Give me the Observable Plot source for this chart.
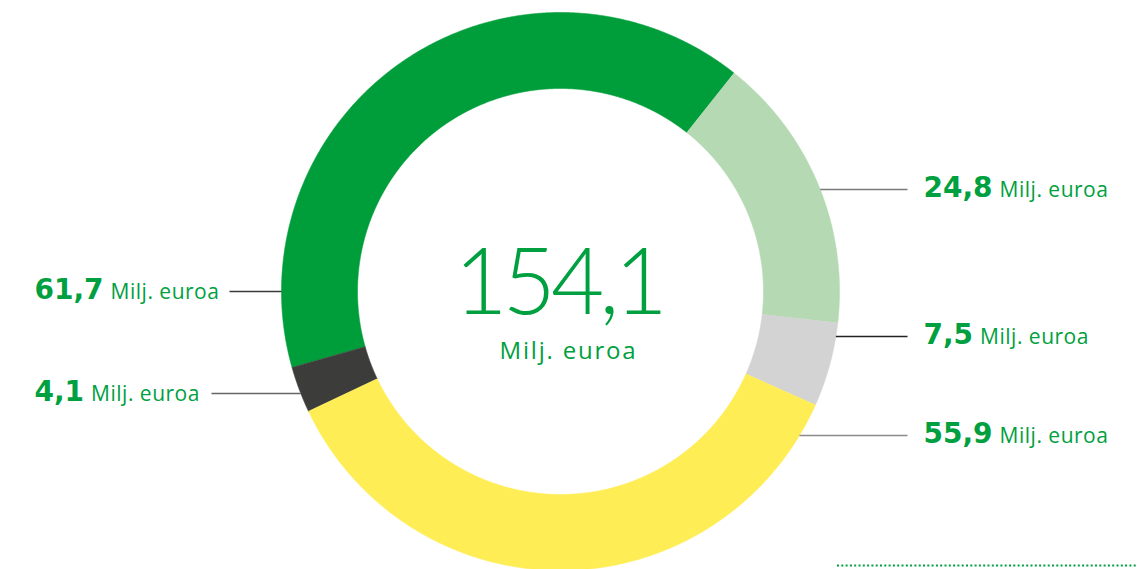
<!DOCTYPE html>
<html><head><meta charset="utf-8">
<script src="https://cdn.jsdelivr.net/npm/d3@7"></script>
<script src="https://cdn.jsdelivr.net/npm/@observablehq/plot@0.6"></script>
<style>html,body{margin:0;padding:0;background:#fff;overflow:hidden} #chart svg{display:block}</style>
</head><body><div id="chart"></div>
<script>
// ---- data ----
const categories = ["s1", "s2", "s3", "s4", "s5"];
const values = [61.7, 24.8, 7.5, 55.9, 4.1];
const totalValue = 154.1;
const unitLabel = "Milj. euroa";

// ---- style / layout ----
const sliceColors = ["#009E3B", "#B5D9B2", "#D3D3D3", "#FFED55", "#3C3C3B"];
const green = "#00A040";
const W = 1138, H = 569;
const R_OUT = 279, R_IN = 203;
const startDeg = -105.8;
const labelSide = ["left", "right", "right", "right", "left"];
const labelLineY = [0, 102, -45, -144, -102];
const leaderOuterX = [-331, 347, 347, 347, -349];
const leaderColor = ["#3a3a3a", "#7a7a7a", "#222222", "#8a8a8a", "#666666"];
const labelX = { left: -526, right: 363 };
const sizeUnit = 21, sizeCenterNum = 92, sizeCenterUnit = 24;
const spacingBySize = { [sizeUnit]: 0.5, [sizeCenterNum]: -5, [sizeCenterUnit]: 1.8 };

const fmt = v => v.toFixed(1).replace(".", ",");

// ---- arcs ----
const pie = d3.pie().sort(null).value(d => d.value)
  .startAngle(startDeg * Math.PI / 180).endAngle(startDeg * Math.PI / 180 + 2 * Math.PI);
const arcs = pie(categories.map((c, i) => ({ id: c, value: values[i] })));
const pts = [];
for (const a of arcs) {
  const n = Math.max(4, Math.ceil((a.endAngle - a.startAngle) / (0.2 * Math.PI / 180)));
  for (let k = 0; k <= n; k++) {
    const t = a.startAngle + (a.endAngle - a.startAngle) * k / n;
    pts.push({ id: a.data.id, x: R_OUT * Math.sin(t), y: R_OUT * Math.cos(t) });
  }
  for (let k = n; k >= 0; k--) {
    const t = a.startAngle + (a.endAngle - a.startAngle) * k / n;
    pts.push({ id: a.data.id, x: R_IN * Math.sin(t), y: R_IN * Math.cos(t) });
  }
}

// ---- labels ----
const ctx = document.createElement("canvas").getContext("2d");
ctx.font = "bold 28px 'DejaVu Sans'";
const rows = categories.map((c, i) => {
  const ly = labelLineY[i];
  const edge = Math.sqrt(R_OUT * R_OUT - ly * ly);
  const side = labelSide[i];
  const num = fmt(values[i]);
  const w = ctx.measureText(num).width;
  return {
    id: c, num, side,
    x: labelX[side], y: ly - 7, ux: labelX[side] + w + 7,
    lx1: side === "left" ? -edge : edge, lx2: leaderOuterX[i], ly,
    lc: leaderColor[i]
  };
});

const marks = [
  Plot.line(pts, { x: "x", y: "y", z: "id", fill: "id", stroke: "id", strokeWidth: 0.6, curve: "linear" }),
  ...rows.map(r => Plot.link([r], { x1: "lx1", x2: "lx2", y1: "ly", y2: "ly", stroke: r.lc, strokeWidth: 1.3 })),
  Plot.text(rows, { x: "x", y: "y", text: "num", textAnchor: "start", lineAnchor: "bottom",
    fill: green, fontFamily: "'DejaVu Sans', sans-serif", fontWeight: "bold", fontSize: 28 }),
  Plot.text(rows, { x: "ux", y: "y", text: () => unitLabel, textAnchor: "start", lineAnchor: "bottom",
    fill: green, fontFamily: "'Open Sans', sans-serif", fontSize: sizeUnit }),
  Plot.text([{ x: -2, y: -22, t: fmt(totalValue) }], { x: "x", y: "y", text: "t", textAnchor: "middle", lineAnchor: "bottom",
    fill: green, fontFamily: "Lato, 'Open Sans', sans-serif", fontWeight: 300, fontSize: sizeCenterNum }),
  Plot.text([{ x: 8, y: -67, t: unitLabel }], { x: "x", y: "y", text: "t", textAnchor: "middle", lineAnchor: "bottom",
    fill: green, fontFamily: "'Open Sans', sans-serif", fontSize: sizeCenterUnit }),
  Plot.ruleY([{ y: -274, x1: 277, x2: 578 }], { y: "y", x1: "x1", x2: "x2", stroke: green, strokeWidth: 2, strokeDasharray: "2,2.3" })
];

const chart = Plot.plot({
  width: W, height: H,
  margin: 0,
  x: { domain: [-560, 578], range: [0, W], axis: null },
  y: { domain: [-278, 291], range: [H, 0], axis: null },
  color: { domain: categories, range: sliceColors },
  style: { background: "#fff", overflow: "visible" },
  marks
});
d3.select(chart).selectAll("g").each(function () {
  const fs = parseFloat(this.getAttribute("font-size"));
  if (fs in spacingBySize) this.setAttribute("letter-spacing", spacingBySize[fs]);
});
document.getElementById("chart").appendChild(chart);
</script>
</body></html>
